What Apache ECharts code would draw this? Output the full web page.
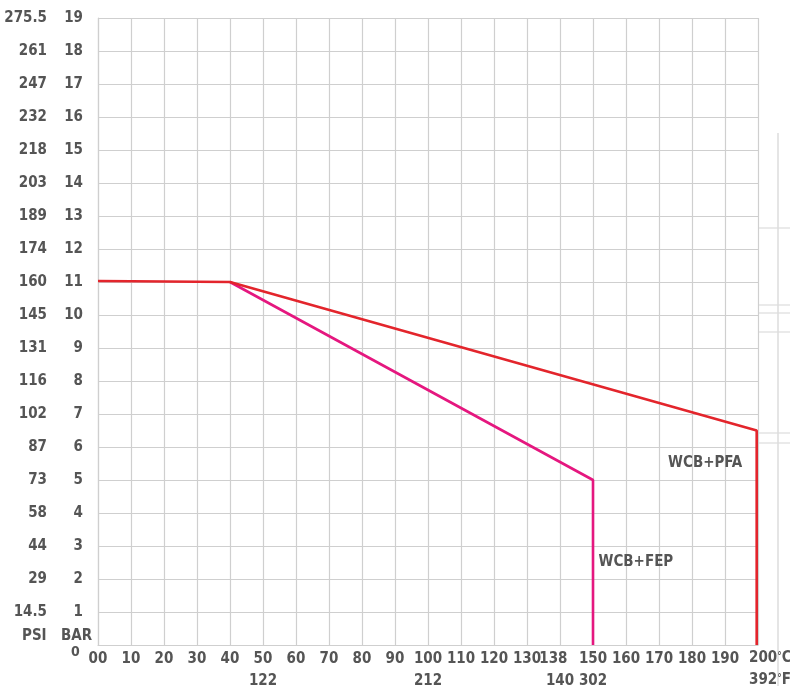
<!DOCTYPE html>
<html>
<head>
<meta charset="utf-8">
<script src="https://cdn.jsdelivr.net/npm/echarts@6/dist/echarts.min.js"></script>
<style>html,body{margin:0;padding:0;background:#fff}#c{width:790px;height:686px}</style>
</head>
<body>
<div id="c"></div>
<script>
// ---- data ----
var barTicks = [0,1,2,3,4,5,6,7,8,9,10,11,12,13,14,15,16,17,18,19];
var psiLabels = ['','14.5','29','44','58','73','87','102','116','131','145','160','174','189','203','218','232','247','261','275.5'];
var celsiusTicks = [0,10,20,30,40,50,60,70,80,90,100,110,120,130,138,150,160,170,180,190];
var lowerTicks = [50,100,140,150];
var lowerLabels = ['122','212','140','302'];
var endLabels = ['200','392'];
var endUnits = ['C','F'];
var pfaCurve = [[0,11.03],[40,11.0],[199.6,6.5],[199.6,0]];
var fepCurve = [[40,11.0],[150,5.0],[150,0]];
var curveNames = ['WCB+PFA','WCB+FEP'];
var namePositions = [[184,5.5],[163,2.5]];

var FONT = '"Liberation Sans Narrow","DejaVu Sans Condensed",sans-serif';
var TXT = '#555555';
var GRID = '#cfcfcf';
var FAINT = '#dcdcdc';

var chart = echarts.init(document.getElementById('c'), null, {renderer:'canvas'});
var labelBase = {fontFamily:FONT, fontWeight:'bold', fontSize:15, color:TXT};
var rich = {
  a:{fontFamily:FONT, fontWeight:'bold', fontSize:15, fill:TXT, color:TXT},
  d:{fontFamily:FONT, fontWeight:'bold', fontSize:10, fill:TXT, color:TXT, verticalAlign:'top'}
};
function hline(y){ return {type:'line', silent:true, z:-1, shape:{x1:759,y1:y,x2:790,y2:y}, style:{stroke:FAINT, lineWidth:1.2}}; }
chart.setOption({
  animation:false,
  grid:{left:98, top:18, width:660, height:627, outerBoundsMode:'none', containLabel:false},
  xAxis:[{
    type:'value', min:0, max:200, interval:10, position:'bottom',
    axisLine:{show:true, lineStyle:{color:GRID, width:1.2}},
    axisTick:{show:false},
    splitLine:{show:true, lineStyle:{color:GRID, width:1.2}},
    axisLabel:Object.assign({}, labelBase, {
      margin:7, customValues:celsiusTicks, showMinLabel:true,
      formatter:function(v){ return v===0 ? '00' : String(v); }
    })
  },{
    type:'value', min:0, max:200, position:'bottom', offset:22,
    axisLine:{show:false}, axisTick:{show:false}, splitLine:{show:false},
    axisLabel:Object.assign({}, labelBase, {
      margin:7, customValues:lowerTicks,
      formatter:function(v){ var i = lowerTicks.indexOf(v); return i<0 ? '' : lowerLabels[i]; }
    })
  }],
  yAxis:[{
    type:'value', min:0, max:19, interval:1, position:'left',
    axisLine:{show:true, lineStyle:{color:GRID, width:1.2}},
    axisTick:{show:false},
    splitLine:{show:true, lineStyle:{color:GRID, width:1.2}},
    axisLabel:Object.assign({}, labelBase, {margin:15, formatter:function(v){return v===0?'':String(v);}})
  },{
    type:'value', min:0, max:19, interval:1, position:'left', offset:36,
    axisLine:{show:false}, axisTick:{show:false}, splitLine:{show:false},
    axisLabel:Object.assign({}, labelBase, {margin:15, formatter:function(v){return psiLabels[barTicks.indexOf(v)]||'';}})
  }],
  series:[
    {type:'line', name:curveNames[1], data:fepCurve, symbol:'none', lineStyle:{color:'#e5177f', width:2.6}, z:3},
    {type:'line', name:curveNames[0], data:pfaCurve, symbol:'none', lineStyle:{color:'#e3252c', width:2.6}, z:4},
    {type:'scatter', symbolSize:0, z:5, itemStyle:{opacity:1},
     data:namePositions.map(function(p,i){return {value:p, name:curveNames[i]};}),
     label:{show:true, position:'inside', formatter:'{b}', fontFamily:FONT, fontWeight:'bold', fontSize:15, color:TXT, opacity:1}}
  ],
  graphic:[
    {type:'text', left:22, top:629, style:{text:'PSI', font:'bold 15px '+FONT, fill:TXT}},
    {type:'text', left:61, top:629, style:{text:'BAR', font:'bold 15px '+FONT, fill:TXT}},
    {type:'text', left:71, top:645, style:{text:'0', font:'bold 14px '+FONT, fill:TXT}},
    {type:'text', left:749, top:651, style:{text:'{a|'+endLabels[0]+'}{d|°}{a|'+endUnits[0]+'}', rich:rich}},
    {type:'text', left:749, top:673, style:{text:'{a|'+endLabels[1]+'}{d|°}{a|'+endUnits[1]+'}', rich:rich}},
    {type:'line', silent:true, z:-1, shape:{x1:778,y1:133,x2:778,y2:686}, style:{stroke:FAINT, lineWidth:1.5}},
    hline(228), hline(305), hline(313), hline(332), hline(433), hline(443)
  ]
});
</script>
</body>
</html>
